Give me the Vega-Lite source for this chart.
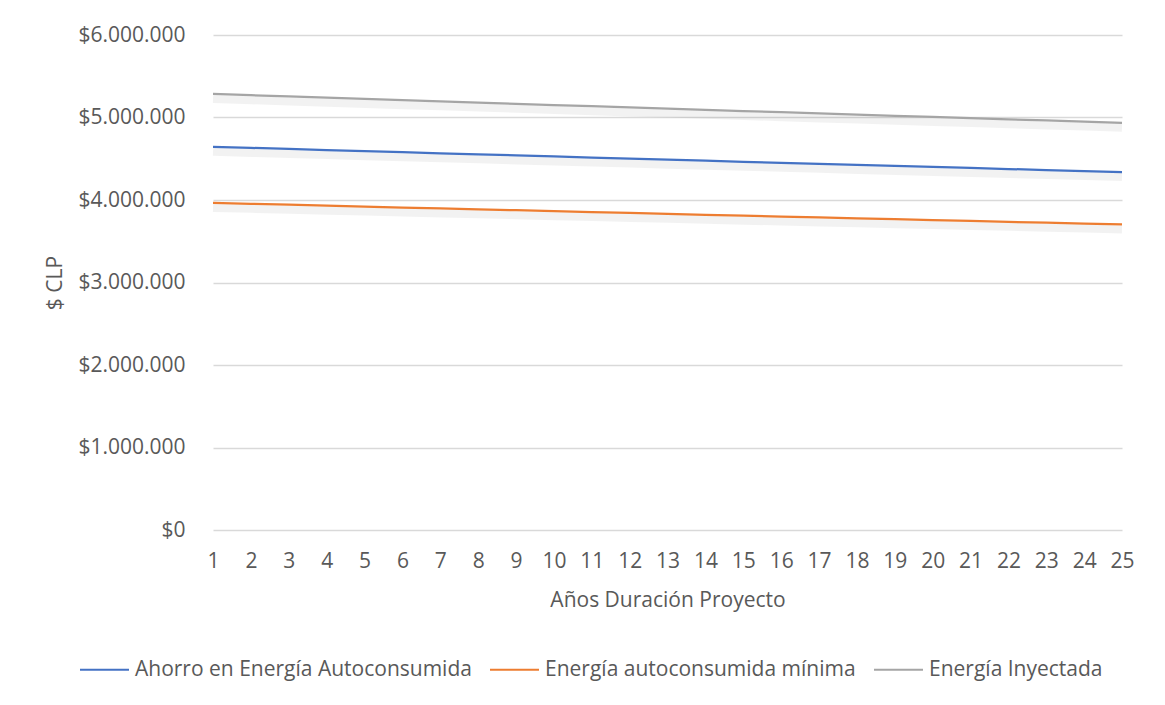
{
  "$schema": "https://vega.github.io/schema/vega-lite/v6.json",
  "width": 909,
  "height": 495,
  "autosize": "none",
  "padding": {"left": 213, "top": 35, "right": 43, "bottom": 175},
  "background": "white",
  "config": {
    "locale": {"number": {"decimal": ",", "thousands": ".", "grouping": [3], "currency": ["$", ""]}},
    "font": "Open Sans",
    "view": {"stroke": null},
    "axis": {"labelFont": "Open Sans", "titleFont": "Open Sans", "labelColor": "#595959", "titleColor": "#595959", "titleFontWeight": "normal"},
    "legend": {"labelFont": "Open Sans", "labelColor": "#595959"}
  },
  "data": {"values": [
    {"year":1,"serie":"Ahorro en Energía Autoconsumida","value":4645000},
    {"year":2,"serie":"Ahorro en Energía Autoconsumida","value":4631800},
    {"year":3,"serie":"Ahorro en Energía Autoconsumida","value":4618700},
    {"year":4,"serie":"Ahorro en Energía Autoconsumida","value":4605500},
    {"year":5,"serie":"Ahorro en Energía Autoconsumida","value":4592400},
    {"year":6,"serie":"Ahorro en Energía Autoconsumida","value":4579400},
    {"year":7,"serie":"Ahorro en Energía Autoconsumida","value":4566400},
    {"year":8,"serie":"Ahorro en Energía Autoconsumida","value":4553400},
    {"year":9,"serie":"Ahorro en Energía Autoconsumida","value":4540500},
    {"year":10,"serie":"Ahorro en Energía Autoconsumida","value":4527600},
    {"year":11,"serie":"Ahorro en Energía Autoconsumida","value":4514700},
    {"year":12,"serie":"Ahorro en Energía Autoconsumida","value":4501900},
    {"year":13,"serie":"Ahorro en Energía Autoconsumida","value":4489100},
    {"year":14,"serie":"Ahorro en Energía Autoconsumida","value":4476300},
    {"year":15,"serie":"Ahorro en Energía Autoconsumida","value":4463600},
    {"year":16,"serie":"Ahorro en Energía Autoconsumida","value":4450900},
    {"year":17,"serie":"Ahorro en Energía Autoconsumida","value":4438300},
    {"year":18,"serie":"Ahorro en Energía Autoconsumida","value":4425700},
    {"year":19,"serie":"Ahorro en Energía Autoconsumida","value":4413100},
    {"year":20,"serie":"Ahorro en Energía Autoconsumida","value":4400600},
    {"year":21,"serie":"Ahorro en Energía Autoconsumida","value":4388100},
    {"year":22,"serie":"Ahorro en Energía Autoconsumida","value":4375600},
    {"year":23,"serie":"Ahorro en Energía Autoconsumida","value":4363200},
    {"year":24,"serie":"Ahorro en Energía Autoconsumida","value":4350800},
    {"year":25,"serie":"Ahorro en Energía Autoconsumida","value":4338400},
    {"year":1,"serie":"Energía autoconsumida mínima","value":3965000},
    {"year":2,"serie":"Energía autoconsumida mínima","value":3953700},
    {"year":3,"serie":"Energía autoconsumida mínima","value":3942500},
    {"year":4,"serie":"Energía autoconsumida mínima","value":3931300},
    {"year":5,"serie":"Energía autoconsumida mínima","value":3920100},
    {"year":6,"serie":"Energía autoconsumida mínima","value":3909000},
    {"year":7,"serie":"Energía autoconsumida mínima","value":3897900},
    {"year":8,"serie":"Energía autoconsumida mínima","value":3886800},
    {"year":9,"serie":"Energía autoconsumida mínima","value":3875800},
    {"year":10,"serie":"Energía autoconsumida mínima","value":3864800},
    {"year":11,"serie":"Energía autoconsumida mínima","value":3853800},
    {"year":12,"serie":"Energía autoconsumida mínima","value":3842800},
    {"year":13,"serie":"Energía autoconsumida mínima","value":3831900},
    {"year":14,"serie":"Energía autoconsumida mínima","value":3821000},
    {"year":15,"serie":"Energía autoconsumida mínima","value":3810200},
    {"year":16,"serie":"Energía autoconsumida mínima","value":3799300},
    {"year":17,"serie":"Energía autoconsumida mínima","value":3788600},
    {"year":18,"serie":"Energía autoconsumida mínima","value":3777800},
    {"year":19,"serie":"Energía autoconsumida mínima","value":3767100},
    {"year":20,"serie":"Energía autoconsumida mínima","value":3756400},
    {"year":21,"serie":"Energía autoconsumida mínima","value":3745700},
    {"year":22,"serie":"Energía autoconsumida mínima","value":3735100},
    {"year":23,"serie":"Energía autoconsumida mínima","value":3724400},
    {"year":24,"serie":"Energía autoconsumida mínima","value":3713900},
    {"year":25,"serie":"Energía autoconsumida mínima","value":3703300},
    {"year":1,"serie":"Energía Inyectada","value":5285000},
    {"year":2,"serie":"Energía Inyectada","value":5270000},
    {"year":3,"serie":"Energía Inyectada","value":5255000},
    {"year":4,"serie":"Energía Inyectada","value":5240100},
    {"year":5,"serie":"Energía Inyectada","value":5225200},
    {"year":6,"serie":"Energía Inyectada","value":5210300},
    {"year":7,"serie":"Energía Inyectada","value":5195500},
    {"year":8,"serie":"Energía Inyectada","value":5180800},
    {"year":9,"serie":"Energía Inyectada","value":5166100},
    {"year":10,"serie":"Energía Inyectada","value":5151400},
    {"year":11,"serie":"Energía Inyectada","value":5136800},
    {"year":12,"serie":"Energía Inyectada","value":5122200},
    {"year":13,"serie":"Energía Inyectada","value":5107600},
    {"year":14,"serie":"Energía Inyectada","value":5093100},
    {"year":15,"serie":"Energía Inyectada","value":5078600},
    {"year":16,"serie":"Energía Inyectada","value":5064200},
    {"year":17,"serie":"Energía Inyectada","value":5049800},
    {"year":18,"serie":"Energía Inyectada","value":5035500},
    {"year":19,"serie":"Energía Inyectada","value":5021200},
    {"year":20,"serie":"Energía Inyectada","value":5006900},
    {"year":21,"serie":"Energía Inyectada","value":4992700},
    {"year":22,"serie":"Energía Inyectada","value":4978500},
    {"year":23,"serie":"Energía Inyectada","value":4964400},
    {"year":24,"serie":"Energía Inyectada","value":4950200},
    {"year":25,"serie":"Energía Inyectada","value":4936200}
  ]},
  "encoding": {
    "x": {
      "field": "year", "type": "quantitative",
      "scale": {"domain": [1, 25], "nice": false, "zero": false},
      "axis": {
        "values": [1,2,3,4,5,6,7,8,9,10,11,12,13,14,15,16,17,18,19,20,21,22,23,24,25],
        "title": "Años Duración Proyecto",
        "titleFontSize": 21, "labelFontSize": 21,
        "labelOverlap": false, "labelFlush": false, "labelBound": false,
        "grid": false, "ticks": false, "domain": false,
        "labelPadding": 20, "titlePadding": 18
      }
    },
    "y": {
      "field": "value", "type": "quantitative",
      "scale": {"domain": [0, 6000000], "nice": false},
      "axis": {
        "values": [0, 1000000, 2000000, 3000000, 4000000, 5000000, 6000000],
        "format": "$,.0f",
        "title": "$ CLP",
        "titleFontSize": 21, "labelFontSize": 21,
        "grid": true, "gridColor": "#d9d9d9", "gridWidth": 1.3,
        "ticks": false, "domain": false,
        "labelPadding": 28, "titlePadding": 12
      }
    }
  },
  "layer": [
    {
      "mark": {"type": "line", "stroke": "#000000", "strokeWidth": 8, "opacity": 0.05, "yOffset": 5},
      "encoding": {
        "detail": {"field": "serie"}
      }
    },
    {
      "mark": {"type": "line", "strokeWidth": 2.25},
      "encoding": {
        "color": {
          "field": "serie", "type": "nominal",
          "scale": {
            "domain": ["Ahorro en Energía Autoconsumida", "Energía autoconsumida mínima", "Energía Inyectada"],
            "range": ["#4472c4", "#ed7d31", "#a5a5a5"]
          },
          "legend": {
            "title": null,
            "orient": "none",
            "direction": "horizontal",
            "legendX": -134,
            "legendY": 609,
            "symbolType": "stroke",
            "symbolSize": 2400,
            "symbolStrokeWidth": 2,
            "labelFontSize": 21,
            "labelOffset": 5,
            "columnPadding": 14,
            "labelLimit": 600
          }
        }
      }
    }
  ]
}
